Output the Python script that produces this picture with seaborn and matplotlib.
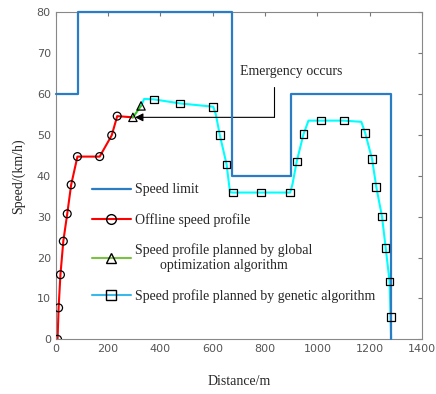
import matplotlib
matplotlib.use("Agg")
import matplotlib.pyplot as plt
from matplotlib.lines import Line2D
import seaborn as sns

# speed limit (step starts) in m and km/h
limit_x = [0, 86, 672, 900, 1282]
limit_y = [60, 80, 40, 60, 0]

# offline speed profile
offline_x = [7, 11, 18, 29, 44, 59, 83, 168, 214, 235, 295]
offline_y = [0, 7.7, 15.8, 24.0, 30.7, 37.8, 44.7, 44.7, 49.9, 54.6, 54.3]

# global optimization
global_x = [295, 326]
global_y = [54.3, 57.1]

# genetic algorithm curve and its markers
genetic_line_x = [326, 338, 375, 476, 602, 612, 627, 653, 666, 678, 785, 896,
                  905, 921, 947, 966, 1014, 1101, 1168, 1183, 1209, 1225, 1247,
                  1261, 1276, 1282]
genetic_line_y = [57.1, 58.8, 58.7, 57.7, 56.9, 55.0, 50.0, 42.8, 36.0, 35.9,
                  35.9, 35.9, 38.0, 43.5, 50.2, 53.5, 53.5, 53.5, 53.2, 50.4,
                  44.1, 37.3, 30.0, 22.4, 14.1, 0]
genetic_x = [375, 476, 602, 627, 653, 678, 785, 896, 921, 947, 1014, 1101,
             1183, 1209, 1225, 1247, 1261, 1276, 1282]
genetic_y = [58.7, 57.7, 56.9, 50.0, 42.8, 35.9, 35.9, 35.9, 43.5, 50.2, 53.5,
             53.5, 50.4, 44.1, 37.3, 30.0, 22.4, 14.1, 5.4]

labels = ["Speed limit", "Offline speed profile",
          "Speed profile planned by global\noptimization algorithm",
          "Speed profile planned by genetic algorithm"]

sns.set_style("white")
serif = "Liberation Serif"

fig = plt.figure(figsize=(4.36, 3.94), dpi=100)
ax = fig.add_axes([0.1278, 0.1388, 0.968 - 0.1278, 0.9688 - 0.1388])

blue = "#2a7cc4"
sns.lineplot(x=limit_x, y=limit_y, ax=ax, color=blue, lw=1.6,
             drawstyle="steps-post", sort=False, estimator=None,
             clip_on=False, zorder=4)
sns.lineplot(x=genetic_line_x, y=genetic_line_y, ax=ax, color="#00ffff", lw=1.5,
             sort=False, estimator=None)
sns.scatterplot(x=genetic_x, y=genetic_y, ax=ax, marker="s", s=30,
                facecolor="none", edgecolor="black", linewidth=0.9, zorder=5)
sns.lineplot(x=offline_x, y=offline_y, ax=ax, color="red", lw=1.5,
             sort=False, estimator=None)
sns.scatterplot(x=offline_x[:-1], y=offline_y[:-1], ax=ax, marker="o", s=32,
                facecolor="none", edgecolor="black", linewidth=0.9, zorder=5)
sns.lineplot(x=global_x, y=global_y, ax=ax, color="#2ecc1f", lw=1.5,
             sort=False, estimator=None)
sns.scatterplot(x=global_x, y=global_y, ax=ax, marker="^", s=36,
                facecolor="none", edgecolor="black", linewidth=0.9, zorder=5)

# emergency annotation
ax.plot([834, 834], [61.7, 54.3], color="black", lw=0.8)
ax.annotate("", xy=(303, 54.3), xytext=(834.5, 54.3),
            arrowprops=dict(arrowstyle="-|>", color="black", lw=0.8,
                            mutation_scale=12, shrinkA=0, shrinkB=0))
ax.text(898, 65.6, "Emergency occurs", family=serif, fontsize=10,
        ha="center", va="center")

ax.set_xlim(0, 1400)
ax.set_ylim(0, 80)
ax.set_xticks(range(0, 1401, 200))
ax.set_yticks(range(0, 81, 10))
ax.tick_params(direction="in", length=3, color="#777777", labelcolor="#555555",
               labelsize=8, top=True, right=True)
for s in ax.spines.values():
    s.set_color("#888888")
    s.set_linewidth(0.8)
ax.set_xlabel("Distance/m", family=serif, fontsize=10, labelpad=15)
ax.set_ylabel("Speed/(km/h)", family=serif, fontsize=10, labelpad=8)

handles = [
    Line2D([], [], color=blue, lw=1.6),
    Line2D([], [], color="red", lw=1.5, marker="o", mfc="none", mec="black", ms=7),
    Line2D([], [], color="#7cc242", lw=1.5, marker="^", mfc="none", mec="black", ms=7),
    Line2D([], [], color="#3ab8ec", lw=1.5, marker="s", mfc="none", mec="black", ms=7),
]
leg = ax.legend(handles, labels, loc="upper left", bbox_to_anchor=(0.065, 0.515),
                frameon=False, prop={"family": serif, "size": 10},
                handlelength=2.8, handletextpad=0.3, labelspacing=1.2)
for t in leg.get_texts():
    t.set_multialignment("center")

fig.savefig("out.png", dpi=100)
